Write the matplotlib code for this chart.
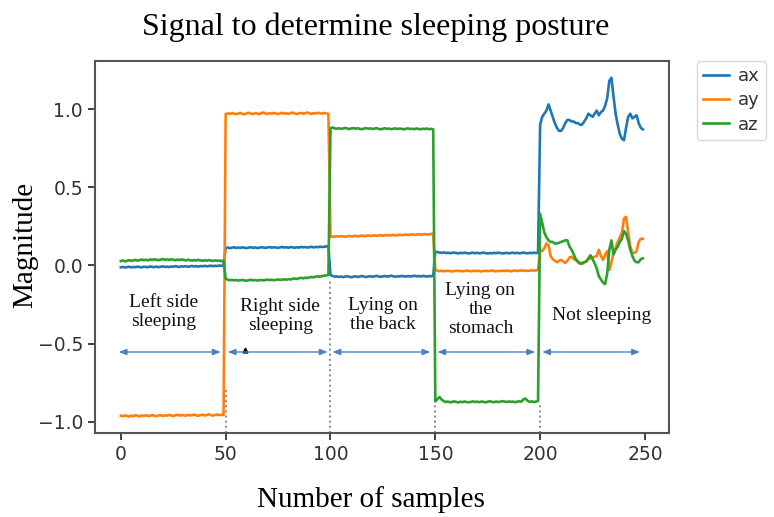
import matplotlib
matplotlib.use("Agg")
import matplotlib.pyplot as plt

# ---------------- data ----------------
ax_left = [-0.012,-0.010,-0.014,-0.011,-0.009,-0.013,-0.010,-0.012,-0.008,-0.011,
           -0.013,-0.009,-0.010,-0.012,-0.007,-0.010,-0.011,-0.008,-0.012,-0.009,
           -0.006,-0.010,-0.008,-0.011,-0.007,-0.009,-0.005,-0.008,-0.010,-0.006,
           -0.008,-0.005,-0.009,-0.006,-0.004,-0.007,-0.005,-0.008,-0.004,-0.006,
           -0.003,-0.006,-0.004,-0.002,-0.005,-0.003,-0.004,-0.001,-0.003,-0.002]
ay_left = [-0.962,-0.965,-0.960,-0.963,-0.967,-0.961,-0.964,-0.958,-0.962,-0.966,
           -0.960,-0.963,-0.959,-0.964,-0.961,-0.957,-0.962,-0.965,-0.960,-0.958,
           -0.963,-0.959,-0.961,-0.956,-0.960,-0.964,-0.958,-0.955,-0.961,-0.957,
           -0.959,-0.962,-0.956,-0.960,-0.958,-0.954,-0.959,-0.962,-0.957,-0.955,
           -0.960,-0.957,-0.953,-0.958,-0.961,-0.956,-0.954,-0.958,-0.955,-0.957]
az_left = [0.028,0.031,0.026,0.030,0.033,0.029,0.032,0.035,0.030,0.034,
           0.037,0.033,0.036,0.032,0.038,0.035,0.039,0.036,0.033,0.037,
           0.040,0.036,0.038,0.035,0.039,0.036,0.033,0.037,0.034,0.038,
           0.035,0.032,0.036,0.033,0.030,0.034,0.031,0.035,0.032,0.029,
           0.033,0.030,0.034,0.031,0.028,0.032,0.029,0.031,0.027,0.030]

ax_right = [0.112,0.114,0.110,0.113,0.116,0.111,0.114,0.112,0.115,0.113,
            0.110,0.114,0.116,0.112,0.115,0.111,0.113,0.116,0.114,0.112,
            0.115,0.117,0.113,0.116,0.114,0.112,0.115,0.118,0.114,0.116,
            0.113,0.117,0.115,0.112,0.116,0.114,0.118,0.115,0.117,0.114,
            0.116,0.119,0.115,0.118,0.116,0.120,0.117,0.119,0.121,0.124]
ay_right = [0.968,0.972,0.969,0.974,0.970,0.967,0.971,0.975,0.969,0.966,
            0.972,0.976,0.970,0.968,0.973,0.971,0.967,0.974,0.978,0.972,
            0.969,0.973,0.970,0.975,0.971,0.968,0.972,0.976,0.970,0.973,
            0.969,0.974,0.977,0.971,0.968,0.972,0.975,0.970,0.973,0.978,
            0.972,0.969,0.974,0.971,0.976,0.973,0.970,0.975,0.972,0.968]
az_right = [-0.085,-0.092,-0.095,-0.093,-0.096,-0.094,-0.097,-0.095,-0.093,-0.096,
            -0.098,-0.095,-0.092,-0.096,-0.094,-0.097,-0.095,-0.093,-0.096,-0.094,
            -0.091,-0.094,-0.092,-0.095,-0.093,-0.090,-0.093,-0.091,-0.089,-0.092,
            -0.088,-0.090,-0.086,-0.084,-0.087,-0.082,-0.080,-0.083,-0.079,-0.081,
            -0.077,-0.074,-0.076,-0.072,-0.070,-0.073,-0.068,-0.066,-0.064,-0.062]

ax_back = [-0.062,-0.068,-0.072,-0.070,-0.074,-0.071,-0.075,-0.072,-0.069,-0.073,
           -0.076,-0.072,-0.070,-0.074,-0.071,-0.068,-0.072,-0.075,-0.071,-0.069,
           -0.073,-0.070,-0.067,-0.071,-0.074,-0.070,-0.068,-0.072,-0.069,-0.066,
           -0.070,-0.073,-0.069,-0.071,-0.067,-0.070,-0.072,-0.068,-0.071,-0.069,
           -0.066,-0.070,-0.068,-0.071,-0.067,-0.069,-0.072,-0.068,-0.070,-0.067]
ay_back = [0.182,0.185,0.183,0.186,0.184,0.187,0.185,0.183,0.186,0.188,
           0.185,0.187,0.189,0.186,0.188,0.190,0.187,0.189,0.191,0.188,
           0.190,0.192,0.189,0.191,0.193,0.190,0.192,0.194,0.191,0.193,
           0.195,0.192,0.194,0.196,0.193,0.195,0.197,0.194,0.196,0.198,
           0.195,0.197,0.199,0.196,0.198,0.200,0.197,0.199,0.201,0.203]
az_back = [0.878,0.882,0.876,0.874,0.877,0.873,0.876,0.879,0.875,0.872,
           0.876,0.878,0.874,0.877,0.873,0.871,0.875,0.878,0.874,0.876,
           0.872,0.875,0.877,0.873,0.870,0.874,0.877,0.873,0.875,0.871,
           0.874,0.876,0.872,0.875,0.873,0.870,0.874,0.876,0.872,0.874,
           0.871,0.875,0.873,0.870,0.874,0.872,0.875,0.871,0.873,0.870]

ax_stomach = [0.088,0.085,0.082,0.080,0.083,0.079,0.081,0.078,0.080,0.082,
              0.079,0.077,0.080,0.078,0.081,0.079,0.076,0.079,0.081,0.078,
              0.080,0.077,0.079,0.082,0.078,0.076,0.079,0.077,0.080,0.078,
              0.081,0.079,0.076,0.078,0.080,0.077,0.079,0.081,0.078,0.080,
              0.077,0.079,0.082,0.079,0.077,0.080,0.078,0.081,0.079,0.080]
ay_stomach = [-0.030,-0.034,-0.037,-0.035,-0.038,-0.036,-0.034,-0.037,-0.039,-0.036,
              -0.034,-0.037,-0.035,-0.038,-0.036,-0.033,-0.036,-0.038,-0.035,-0.037,
              -0.034,-0.036,-0.039,-0.036,-0.034,-0.037,-0.035,-0.033,-0.036,-0.038,
              -0.035,-0.037,-0.034,-0.036,-0.033,-0.035,-0.038,-0.035,-0.033,-0.036,
              -0.034,-0.032,-0.035,-0.033,-0.036,-0.034,-0.031,-0.034,-0.032,-0.030]
az_stomach = [-0.870,-0.855,-0.842,-0.858,-0.868,-0.874,-0.871,-0.876,-0.873,-0.870,
              -0.874,-0.877,-0.872,-0.875,-0.871,-0.874,-0.876,-0.873,-0.870,-0.874,
              -0.872,-0.875,-0.871,-0.873,-0.876,-0.872,-0.869,-0.873,-0.875,-0.871,
              -0.874,-0.872,-0.868,-0.871,-0.874,-0.870,-0.873,-0.871,-0.875,-0.872,
              -0.869,-0.872,-0.858,-0.852,-0.866,-0.873,-0.870,-0.874,-0.871,-0.868]

ax_awake = [0.90,0.95,0.97,0.99,1.03,0.99,0.95,0.91,0.88,0.86,
            0.86,0.88,0.91,0.93,0.93,0.92,0.92,0.91,0.91,0.90,
            0.90,0.92,0.94,0.97,0.96,0.95,0.97,0.99,0.96,0.98,
            0.99,1.02,1.07,1.18,1.20,1.08,0.97,0.90,0.84,0.81,
            0.80,0.88,0.95,0.97,0.94,0.95,0.96,0.91,0.88,0.87]
ay_awake = [0.10,0.09,0.11,0.14,0.13,0.06,0.04,0.03,0.02,0.03,
            0.035,0.025,0.015,0.03,0.05,0.055,0.04,0.035,0.02,0.01,
            0.01,0.02,0.025,0.04,0.045,0.05,0.055,0.06,0.10,0.06,
            0.035,0.07,0.09,-0.03,0.02,0.08,0.11,0.15,0.18,0.21,
            0.30,0.31,0.21,0.12,0.08,0.08,0.09,0.15,0.17,0.17]
az_awake = [0.33,0.27,0.21,0.18,0.16,0.15,0.15,0.14,0.14,0.145,
            0.15,0.155,0.16,0.16,0.12,0.10,0.07,0.04,0.025,0.015,
            0.013,0.02,0.025,0.045,0.065,0.04,0.013,-0.02,-0.07,-0.09,
            -0.11,-0.12,-0.05,0.10,0.16,0.07,0.10,0.12,0.15,0.17,
            0.22,0.20,0.16,0.10,0.06,0.03,0.02,0.02,0.04,0.045]

series_names = ["ax", "ay", "az"]
ax_vals = ax_left + ax_right + ax_back + ax_stomach + ax_awake
ay_vals = ay_left + ay_right + ay_back + ay_stomach + ay_awake
az_vals = az_left + az_right + az_back + az_stomach + az_awake
samples = list(range(len(ax_vals)))

posture_labels = ["Left side\nsleeping", "Right side\nsleeping", "Lying on\nthe back",
                  "Lying on\nthe\nstomach", "Not sleeping"]
label_pos = [(20.5, -0.30), (76, -0.325), (125, -0.318), (171.5, -0.28), (229.5, -0.318)]
arrow_spans = [(-1, 47.6), (51, 98.6), (101, 147.6), (151, 197.6), (201, 247.6)]
arrow_y = -0.554
divider_x = [50, 100, 150, 200]
divider_top = [-0.80, -0.10, -0.88, -0.88]

x_ticks = [0, 50, 100, 150, 200, 250]
y_ticks = [-1.0, -0.5, 0.0, 0.5, 1.0]

# ---------------- figure ----------------
fig = plt.figure(figsize=(7.74, 5.17), dpi=100)
ax = fig.add_axes([0.1224, 0.1625, 0.7419, 0.7201])

colors = ["#1f77b4", "#ff7f0e", "#2ca02c"]
for vals, name, c in zip([ax_vals, ay_vals, az_vals], series_names, colors):
    ax.plot(samples, vals, color=c, lw=1.9, label=name)

ax.set_xlim(-12.45, 261.45)
ax.set_ylim(-1.072, 1.309)

ymin = ax.get_ylim()[0]
ax.vlines(divider_x, ymin, divider_top, colors="#8a8a8a", linestyles=":", lw=1.4, zorder=1)

for (x0, x1) in arrow_spans:
    ax.annotate("", xy=(x1, arrow_y), xytext=(x0, arrow_y),
                arrowprops=dict(arrowstyle="<|-|>,head_length=0.45,head_width=0.18",
                                color="#4a7fc1", lw=1.0, shrinkA=0, shrinkB=0))
ax.plot([59], [-0.54], marker="^", color="black", markersize=3.5, ls="none")

for txt, (lx, ly) in zip(posture_labels, label_pos):
    ax.text(lx, ly, txt, ha="center", va="center", fontsize=14,
            family="Liberation Serif", color="#111111", linespacing=1.15)

ax.set_xticks(x_ticks)
ax.set_yticks(y_ticks)
ax.tick_params(labelsize=13.5, colors="#333333", length=5, width=1.3)
for s in ax.spines.values():
    s.set_color("#555555")
    s.set_linewidth(1.5)

leg = ax.legend(loc="upper left", bbox_to_anchor=(1.049, 1.0), borderaxespad=0,
                fontsize=13, frameon=True, fancybox=True, handlelength=1.4,
                handletextpad=0.5, labelspacing=0.35, borderpad=0.35)
leg.get_frame().set_edgecolor("#d0d0d0")
for t in leg.get_texts():
    t.set_color("#333333")

fig.text(0.485, 0.948, "Signal to determine sleeping posture", ha="center", va="center",
         fontsize=23, family="Liberation Serif")
fig.text(0.479, 0.033, "Number of samples", ha="center", va="center",
         fontsize=21, family="Liberation Serif")
fig.text(0.032, 0.526, "Magnitude", ha="center", va="center", rotation=90,
         fontsize=21, family="Liberation Serif")

fig.savefig("out.png", dpi=100)
